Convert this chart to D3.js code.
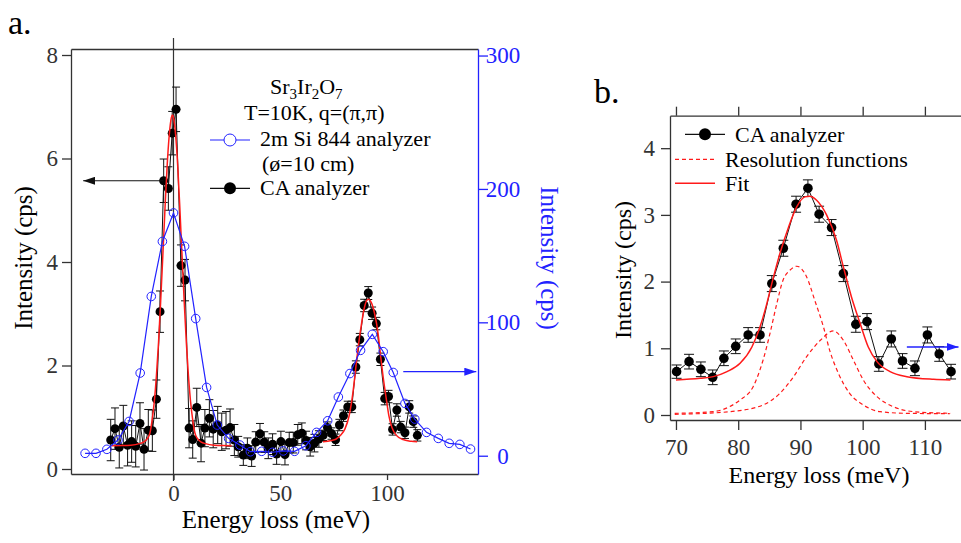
<!DOCTYPE html>
<html><head><meta charset="utf-8">
<script src="https://cdn.jsdelivr.net/npm/d3@7"></script>
<style>
body{margin:0;background:#fff}
svg{display:block}
</style>
</head><body>
<svg id="c" width="961" height="543"></svg>
<script>
// ---------------- DATA ----------------
// CA analyzer (black dots, left axis), meV / cps
const caEnergy = [-29.4,-27.4,-25.4,-23.5,-21.5,-19.6,-17.7,-15.7,-13.8,-11.8,-9.9,-8.0,
  -6.3,-4.6,-2.4,-0.6,1.2,3.5,5.4,
  7.3,9.0,10.9,12.9,14.7,16.8,18.6,20.7,22.6,24.6,26.5,28.5,
  30.3,32.7,34.6,36.6,38.5,40.5,42.5,44.4,46.4,48.3,50.3,52.2,54.2,56.1,58.2,60.1,62.1,64.0,66.0,68.1,
  70.1,72.1,74.0,75.9,77.7,79.6,81.6,83.5,85.4,87.25,89.3,91.2,93.0,95.0,96.9,98.9,100.7,102.6,104.6,106.4,108.4,110.4,112.3,114.2];
const caIntensity = [0.56,0.78,0.42,0.83,0.46,0.53,0.44,0.88,0.38,0.75,0.74,1.35,
  3.04,5.57,5.42,6.49,6.95,3.93,3.65,
  0.79,0.57,1.19,0.50,0.79,0.98,0.77,0.85,0.72,0.75,0.80,0.56,
  0.43,0.27,0.40,0.25,0.52,0.68,0.52,0.40,0.48,0.29,0.53,0.28,0.51,0.51,0.66,0.69,0.55,0.43,0.50,0.58,
  0.65,0.80,0.685,0.565,0.85,1.03,1.20,1.20,1.97,2.50,3.16,3.40,3.01,2.81,2.12,1.36,1.40,0.765,1.14,0.81,0.70,1.20,0.915,0.65];
const caError = [0.4,0.4,0.4,0.4,0.4,0.4,0.4,0.4,0.4,0.4,0.4,0.37,
  0.40,0.42,0.42,0.42,0.43,0.40,0.40,
  0.38,0.36,0.37,0.36,0.36,0.36,0.36,0.36,0.36,0.36,0.36,0.3,
  0.2,0.2,0.2,0.2,0.2,0.2,0.2,0.2,0.2,0.2,0.2,0.2,0.2,0.2,0.2,0.2,0.18,0.18,0.17,0.16,
  0.1,0.11,0.11,0.11,0.11,0.11,0.11,0.11,0.12,0.12,0.12,0.125,0.12,0.12,0.12,0.12,0.12,0.11,0.12,0.11,0.11,0.12,0.11,0.11];

// 2m Si 844 analyzer (blue open circles, right axis)
const siEnergy = [-41.4,-36.3,-31.2,-26.0,-20.8,-15.6,-10.4,-5.2,0,5.2,10.4,15.5,20.5,25.8,31.1,36.0,
  41.3,46.4,51.4,56.7,62.0,67.0,72.2,77.2,82.6,87.6,93.1,98.2,102.9,108.4,113.0,118.5,124.0,129.1,134.1,139.1];
const siIntensity = [1.8,1.8,4.8,11.8,25.7,62,119.4,160.6,182,157,102.8,51.2,23,13,8,3,
  3.3,2.6,3.6,3.3,7.5,17.5,26.2,44,61.6,79,91,78,62.4,39.2,27.5,17.5,13,9.3,8.5,5];

// Fit of elastic line (red, panel a)
const fitElasticEnergy = [-29,-24,-20,-16,-14,-12,-11,-10,-9,-8,-7,-6,-5,-4,-3,-2,-1,-0.5,0,1,2,3,4,5,6,7,8,9,10,11,13,15,19,23,27.2];
const fitElasticValue  = [0.45,0.452,0.46,0.49,0.52,0.60,0.70,0.95,1.30,1.80,2.45,3.25,4.12,5.02,5.84,6.45,6.79,6.84,6.79,6.45,5.84,5.02,4.12,3.25,2.45,1.80,1.30,0.95,0.70,0.60,0.52,0.49,0.46,0.452,0.45];

// Fit of magnon peak (red, both panels)
const fitMagnonEnergy = [70.0,73.9,76.0,78.2,80.3,82.2,83.5,84.6,85.4,86.7,88.1,89.4,90.7,91.5,92.6,94.2,95.8,96.9,98.2,99.6,100.9,102.3,104.4,107.1,111.4,114.1];
const fitMagnonValue  = [0.525,0.55,0.575,0.65,0.775,1.02,1.32,1.67,1.97,2.42,2.82,3.12,3.27,3.28,3.22,3.0,2.62,2.22,1.77,1.37,1.02,0.80,0.65,0.575,0.535,0.525];

// Resolution functions (dashed red, panel b)
const res1Energy = [69.8,76.0,78.5,80.3,82.4,84.0,85.1,86.2,87.2,88.3,89.4,91.0,92.3,93.7,94.7,96.1,97.9,100.1,102.8,107.1,114.0];
const res1Value  = [0.025,0.05,0.12,0.225,0.425,0.825,1.22,1.67,2.02,2.17,2.23,2.07,1.72,1.32,0.97,0.625,0.325,0.15,0.05,0.025,0.02];
const res2Energy = [69.8,78.7,84.0,86.7,88.9,91.0,93.2,95.3,96.9,98.5,100.1,102.3,104.9,108.2,114.1];
const res2Value  = [0.01,0.05,0.15,0.325,0.575,0.875,1.12,1.26,1.12,0.825,0.525,0.275,0.125,0.05,0.025];

// Ticks
const ticksAX = [0,50,100];
const ticksAY = [0,2,4,6,8];
const ticksAY2 = [0,100,200,300];
const ticksBX = [70,80,90,100,110];
const ticksBY = [0,1,2,3,4];

// ---------------- DRAW ----------------
const svg = d3.select("#c");
const SERIF = '"Liberation Serif", "Times New Roman", serif';
const AX = "#333";
const BLUE = "#2222ff";
const RED = "#ff1a1a";
const fmt = d3.format("d");

const defs = svg.append("defs");
function arrowMarker(id, color){
  defs.append("marker").attr("id", id).attr("viewBox","0 0 12 8").attr("refX",12).attr("refY",4)
    .attr("markerUnits","userSpaceOnUse").attr("markerWidth",12).attr("markerHeight",8).attr("orient","auto")
    .append("path").attr("d","M0,0 L12,4 L0,8 Z").attr("fill", color);
}
arrowMarker("arrK","#111");
arrowMarker("arrB",BLUE);

function styleAxis(g, color, fs){
  g.attr("font-size", fs);
  g.selectAll("path.domain").attr("stroke", color).attr("stroke-width",1.3);
  g.selectAll(".tick line").attr("stroke", color).attr("stroke-width",1.3);
  g.selectAll(".tick text").attr("fill", color).style("font-size", fs+"px");
}

// ===== Panel a =====
const xA = d3.scaleLinear().domain([-48, 142.6]).range([71, 478]);
const yA = d3.scaleLinear().domain([-0.0966, 8.116]).range([474, 49]);
const yA2 = d3.scaleLinear().domain([-13.7, 304.9]).range([474, 49]);

const gA = svg.append("g");
gA.append("g").attr("transform","translate(0,49)")
  .call(d3.axisTop(xA).tickValues([]).tickSizeOuter(0)).call(g=>styleAxis(g,AX,22));
gA.append("g").attr("transform","translate(0,474)")
  .call(d3.axisBottom(xA).tickValues(ticksAX).tickFormat(fmt).tickSize(6).tickPadding(5).tickSizeOuter(0))
  .call(g=>styleAxis(g,AX,23));
gA.append("g").attr("transform","translate(71,0)")
  .call(d3.axisLeft(yA).tickValues(ticksAY).tickFormat(fmt).tickSize(9).tickPadding(4).tickSizeOuter(0))
  .call(g=>styleAxis(g,AX,23));
const rAx = gA.append("g").attr("transform","translate(478,0)")
  .call(d3.axisRight(yA2).tickValues(ticksAY2).tickFormat(fmt).tickSize(10).tickPadding(4).tickSizeOuter(0))
  .call(g=>styleAxis(g,BLUE,23));
rAx.selectAll(".tick text").attr("x",25).attr("text-anchor","middle");

gA.append("line").attr("x1",xA(0)).attr("x2",xA(0)).attr("y1",38).attr("y2",481)
  .attr("stroke",AX).attr("stroke-width",1.2);

const caIdx = d3.range(caEnergy.length);
const eb = gA.append("g").attr("stroke","#111").attr("stroke-width",1);
caIdx.forEach(i=>{
  const x = xA(caEnergy[i]), y1 = yA(caIntensity[i]-caError[i]), y2 = yA(caIntensity[i]+caError[i]);
  eb.append("line").attr("x1",x).attr("x2",x).attr("y1",y1).attr("y2",y2);
  eb.append("line").attr("x1",x-4).attr("x2",x+4).attr("y1",y1).attr("y2",y1);
  eb.append("line").attr("x1",x-4).attr("x2",x+4).attr("y1",y2).attr("y2",y2);
});
gA.append("path").datum(caIdx)
  .attr("d", d3.line().x(i=>xA(caEnergy[i])).y(i=>yA(caIntensity[i])))
  .attr("fill","none").attr("stroke","#111").attr("stroke-width",1);
gA.append("g").selectAll("circle").data(caIdx).join("circle")
  .attr("cx",i=>xA(caEnergy[i])).attr("cy",i=>yA(caIntensity[i])).attr("r",4.5).attr("fill","#000");

gA.append("path").datum(d3.range(fitElasticEnergy.length))
  .attr("d", d3.line().curve(d3.curveMonotoneX).x(i=>xA(fitElasticEnergy[i])).y(i=>yA(fitElasticValue[i])))
  .attr("fill","none").attr("stroke",RED).attr("stroke-width",1.5);
gA.append("path").datum(d3.range(fitMagnonEnergy.length))
  .attr("d", d3.line().curve(d3.curveMonotoneX).x(i=>xA(fitMagnonEnergy[i])).y(i=>yA(fitMagnonValue[i])))
  .attr("fill","none").attr("stroke",RED).attr("stroke-width",1.5);

const siIdx = d3.range(siEnergy.length);
gA.append("path").datum(siIdx)
  .attr("d", d3.line().x(i=>xA(siEnergy[i])).y(i=>yA2(siIntensity[i])))
  .attr("fill","none").attr("stroke",BLUE).attr("stroke-width",1.2);
gA.append("g").selectAll("circle").data(siIdx).join("circle")
  .attr("cx",i=>xA(siEnergy[i])).attr("cy",i=>yA2(siIntensity[i])).attr("r",4.3)
  .attr("fill","none").attr("stroke",BLUE).attr("stroke-width",1);

gA.append("line").attr("x1",xA(-4.8)).attr("x2",xA(-42.3)).attr("y1",yA(5.57)).attr("y2",yA(5.57))
  .attr("stroke","#111").attr("stroke-width",1.2).attr("marker-end","url(#arrK)");
gA.append("line").attr("x1",xA(107.6)).attr("x2",xA(141.8)).attr("y1",yA2(63)).attr("y2",yA2(63))
  .attr("stroke",BLUE).attr("stroke-width",1.2).attr("marker-end","url(#arrB)");

svg.append("text").attr("x",8).attr("y",34).attr("font-size",34).text("a.");
svg.append("text").attr("transform","translate(24,258) rotate(-90)").attr("dy","0.3em")
  .attr("text-anchor","middle").attr("font-size",25).text("Intensity (cps)");
svg.append("text").attr("transform","translate(548,258) rotate(90)").attr("dy","0.3em")
  .attr("text-anchor","middle").attr("font-size",25).attr("fill",BLUE).text("Intensity (cps)");
svg.append("text").attr("x",276).attr("y",528).attr("text-anchor","middle").attr("font-size",25).text("Energy loss (meV)");

const formula = svg.append("text").attr("x",270).attr("y",93.5).attr("font-size",22);
formula.append("tspan").text("Sr");
formula.append("tspan").attr("dy",5).attr("font-size",15).text("3");
formula.append("tspan").attr("dy",-5).text("Ir");
formula.append("tspan").attr("dy",5).attr("font-size",15).text("2");
formula.append("tspan").attr("dy",-5).text("O");
formula.append("tspan").attr("dy",5).attr("font-size",15).text("7");
svg.append("text").attr("x",244).attr("y",120).attr("font-size",22).text("T=10K, q=(π,π)");
svg.append("line").attr("x1",210).attr("x2",250).attr("y1",140).attr("y2",140).attr("stroke",BLUE).attr("stroke-width",1.2);
svg.append("circle").attr("cx",230).attr("cy",140).attr("r",6).attr("fill","#fff").attr("stroke",BLUE).attr("stroke-width",1);
svg.append("text").attr("x",260).attr("y",146).attr("font-size",22).text("2m Si 844 analyzer");
svg.append("text").attr("x",262).attr("y",171).attr("font-size",22).text("(ø=10 cm)");
svg.append("line").attr("x1",210).attr("x2",250).attr("y1",188.3).attr("y2",188.3).attr("stroke","#111").attr("stroke-width",1.2);
svg.append("circle").attr("cx",230).attr("cy",188.3).attr("r",6).attr("fill","#000");
svg.append("text").attr("x",260).attr("y",195).attr("font-size",22).text("CA analyzer");

// ===== Panel b =====
const xB = d3.scaleLinear().domain([69.04, 115.8]).range([670, 961]);
const yB = d3.scaleLinear().domain([-0.075, 4.487]).range([420, 115.7]);
const gB = svg.append("g");
gB.append("g").attr("transform","translate(0,115.7)")
  .call(d3.axisTop(xB).tickValues(ticksBX).tickSize(9).tickFormat("").tickSizeOuter(0))
  .call(g=>styleAxis(g,AX,22));
gB.append("g").attr("transform","translate(0,420)")
  .call(d3.axisBottom(xB).tickValues(ticksBX).tickFormat(fmt).tickSize(10).tickPadding(9).tickSizeOuter(0))
  .call(g=>styleAxis(g,AX,23));
gB.append("g").attr("transform","translate(670,0)")
  .call(d3.axisLeft(yB).tickValues(ticksBY).tickFormat(fmt).tickSize(9).tickPadding(6).tickSizeOuter(0))
  .call(g=>styleAxis(g,AX,23));

const bIdx = caIdx.filter(i=>caEnergy[i] >= xB.domain()[0]);
const ebB = gB.append("g").attr("stroke","#111").attr("stroke-width",1);
bIdx.forEach(i=>{
  const x = xB(caEnergy[i]), y1 = yB(caIntensity[i]-caError[i]), y2 = yB(caIntensity[i]+caError[i]);
  ebB.append("line").attr("x1",x).attr("x2",x).attr("y1",y1).attr("y2",y2);
  ebB.append("line").attr("x1",x-5).attr("x2",x+5).attr("y1",y1).attr("y2",y1);
  ebB.append("line").attr("x1",x-5).attr("x2",x+5).attr("y1",y2).attr("y2",y2);
});
gB.append("path").datum(bIdx)
  .attr("d", d3.line().x(i=>xB(caEnergy[i])).y(i=>yB(caIntensity[i])))
  .attr("fill","none").attr("stroke","#111").attr("stroke-width",1);
gB.append("g").selectAll("circle").data(bIdx).join("circle")
  .attr("cx",i=>xB(caEnergy[i])).attr("cy",i=>yB(caIntensity[i])).attr("r",4.8).attr("fill","#000");

gB.append("path").datum(d3.range(res1Energy.length))
  .attr("d", d3.line().curve(d3.curveMonotoneX).x(i=>xB(res1Energy[i])).y(i=>yB(res1Value[i])))
  .attr("fill","none").attr("stroke",RED).attr("stroke-width",1.2).attr("stroke-dasharray","4,3");
gB.append("path").datum(d3.range(res2Energy.length))
  .attr("d", d3.line().curve(d3.curveMonotoneX).x(i=>xB(res2Energy[i])).y(i=>yB(res2Value[i])))
  .attr("fill","none").attr("stroke",RED).attr("stroke-width",1.2).attr("stroke-dasharray","4,3");
gB.append("path").datum(d3.range(fitMagnonEnergy.length))
  .attr("d", d3.line().curve(d3.curveMonotoneX).x(i=>xB(fitMagnonEnergy[i])).y(i=>yB(fitMagnonValue[i])))
  .attr("fill","none").attr("stroke",RED).attr("stroke-width",1.5);

gB.append("line").attr("x1",xB(107.1)).attr("x2",xB(115.4)).attr("y1",yB(1.02)).attr("y2",yB(1.02))
  .attr("stroke",BLUE).attr("stroke-width",1.5).attr("marker-end","url(#arrB)");

svg.append("text").attr("x",594).attr("y",103).attr("font-size",34).text("b.");
svg.append("text").attr("transform","translate(624,270) rotate(-90)").attr("dy","0.3em")
  .attr("text-anchor","middle").attr("font-size",24).text("Intensity (cps)");
svg.append("text").attr("x",819).attr("y",483).attr("text-anchor","middle").attr("font-size",24).text("Energy loss (meV)");

svg.append("line").attr("x1",685).attr("x2",725).attr("y1",134.3).attr("y2",134.3).attr("stroke","#111").attr("stroke-width",1.2);
svg.append("circle").attr("cx",705).attr("cy",134.3).attr("r",6).attr("fill","#000");
svg.append("text").attr("x",735).attr("y",141.5).attr("font-size",22).text("CA analyzer");
svg.append("line").attr("x1",675).attr("x2",714).attr("y1",159.3).attr("y2",159.3).attr("stroke",RED).attr("stroke-width",1.2).attr("stroke-dasharray","4,3");
svg.append("text").attr("x",725).attr("y",166.5).attr("font-size",22).text("Resolution functions");
svg.append("line").attr("x1",675).attr("x2",715).attr("y1",183.3).attr("y2",183.3).attr("stroke",RED).attr("stroke-width",1.5);
svg.append("text").attr("x",725).attr("y",190.5).attr("font-size",22).text("Fit");

// serif font everywhere
svg.selectAll("text").style("font-family", SERIF);
</script>
</body></html>
